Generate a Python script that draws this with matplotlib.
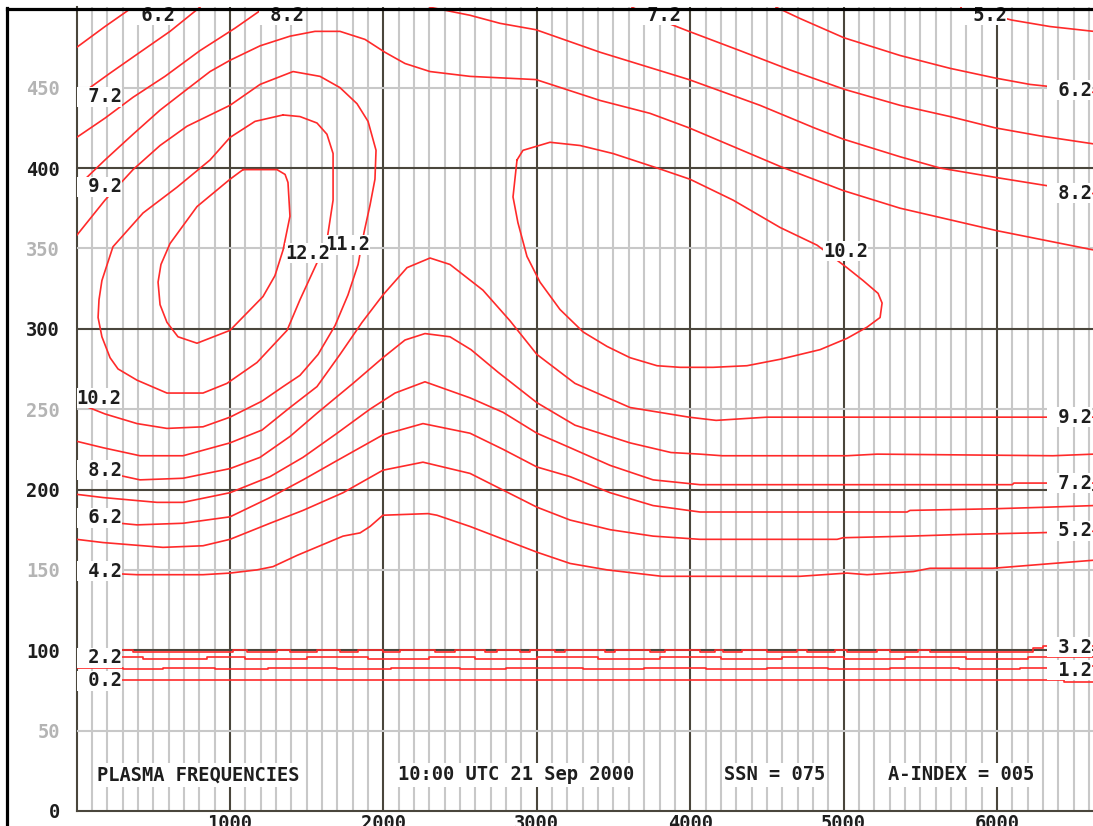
import matplotlib
matplotlib.use("Agg")
import matplotlib.pyplot as plt
from matplotlib.lines import Line2D

# contour traces: distance (km) and height (km), level in MHz
c62a_x = [0, 185, 380]
c62a_y = [475, 488, 501]
c72a_x = [0, 218, 413, 609, 804]
c72a_y = [444, 459, 472, 485, 500]
c82a_x = [0, 185, 368, 576, 804, 1033, 1228]
c82a_y = [419, 431, 444, 457, 473, 487, 500]
c92a_x = [0, 185, 368, 544, 720, 870, 1000, 1196, 1391, 1554, 1717, 1880, 2010, 2141, 2304,
          2565, 2995, 3413, 3738, 3992, 4586, 4997, 5368, 6000, 6630]
c92a_y = [388, 405, 421, 436, 449, 460, 467, 476, 482, 485, 485, 480, 472, 465, 460,
          457, 455, 442, 434, 425, 401, 386, 375, 361, 349]
c82b_x = [2304, 2565, 2760, 2995, 3413, 3992, 4455, 4808, 4997, 5368, 5628, 6000, 6391, 6630]
c82b_y = [500, 495, 490, 486, 472, 455, 439, 425, 418, 407, 400, 394, 388, 384]
c72b_x = [3621, 3803, 3992, 4325, 4651, 5003, 5368, 5694, 5987, 6280, 6630]
c72b_y = [500, 492, 485, 473, 461, 449, 439, 432, 425, 420, 415]
c62b_x = [4560, 4716, 5003, 5368, 5694, 5987, 6215, 6411, 6630]
c62b_y = [500, 493, 481, 470, 462, 456, 452, 450, 447]
c52a_x = [5765, 6098, 6346, 6630]
c52a_y = [500, 492, 488, 485]

c102a_x = [0, 185, 368, 544, 720, 1000, 1196, 1411, 1587, 1717, 1828, 1900, 1952, 1945, 1913,
           1874, 1835, 1769, 1685, 1574, 1456, 1346, 1209, 1000, 824, 589, 394, 185, 0]
c102a_y = [358, 380, 399, 414, 426, 439, 452, 460, 457, 450, 440, 429, 411, 393, 377,
           360, 340, 321, 302, 284, 271, 264, 255, 245, 239, 238, 241, 247, 254]
c112_x = [1346, 1456, 1567, 1632, 1672, 1672, 1632, 1567, 1456, 1372, 1176, 980, 824, 589, 394,
          270, 218, 165, 140, 146, 165, 237, 433, 654, 870, 1000, 1163, 1346]
c112_y = [433, 432, 428, 421, 409, 380, 355, 341, 318, 299, 279, 266, 260, 260, 268,
          275, 282, 295, 307, 318, 330, 351, 372, 388, 405, 419, 429, 433]
c122_x = [1085, 1306, 1359, 1378, 1391, 1346, 1293, 1215, 1000, 785, 661, 589, 544, 531, 550,
          609, 785, 1000, 1085]
c122_y = [399, 399, 396, 391, 370, 349, 333, 320, 299, 291, 295, 304, 315, 329, 340,
          353, 376, 393, 399]
c102b_x = [2871, 2910, 3086, 3282, 3497, 3784, 3999, 4280, 4586, 4827, 5022, 5127, 5225, 5251,
           5238, 5153, 5022, 4847, 4586, 4370, 4149, 3934, 3784, 3608, 3458, 3302, 3151, 3021,
           2936, 2877, 2845, 2871]
c102b_y = [405, 411, 416, 414, 409, 400, 393, 380, 363, 352, 338, 330, 322, 316,
           307, 301, 294, 287, 281, 277, 276, 276, 277, 282, 289, 298, 312, 329,
           345, 366, 382, 405]

c92b_x = [0, 172, 413, 694, 1000, 1209, 1391, 1567, 1717, 1861, 1997, 2154, 2304, 2434, 2649,
          2825, 3001, 3249, 3608, 3992, 4169, 4501, 4827, 6630]
c92b_y = [230, 226, 221, 221, 229, 237, 251, 264, 284, 304, 321, 338, 344, 340, 324,
          305, 284, 266, 251, 245, 243, 245, 245, 245]
c82c_x = [0, 172, 413, 694, 1000, 1196, 1391, 1574, 1802, 1997, 2141, 2271, 2434, 2571, 2747,
          3001, 3249, 3608, 3875, 4064, 4208, 5022, 5218, 6365, 6630]
c82c_y = [212, 211, 206, 207, 213, 220, 233, 248, 266, 282, 293, 297, 295, 287, 273,
          254, 240, 229, 223, 222, 221, 221, 222, 221, 222]
c72c_x = [0, 172, 524, 694, 1000, 1261, 1476, 1698, 1913, 2076, 2271, 2565, 2780, 3001, 3217,
          3478, 3758, 4064, 6100, 6110, 6630]
c72c_y = [197, 195, 192, 192, 198, 208, 220, 235, 250, 260, 267, 257, 248, 235, 226,
          215, 206, 203, 203, 204, 204]
c62c_x = [0, 172, 394, 694, 1000, 1261, 1476, 1698, 1997, 2258, 2565, 2780, 3001, 3217, 3478,
          3758, 4064, 5414, 5433, 5974, 6326, 6630]
c62c_y = [181, 180, 178, 179, 183, 195, 206, 218, 234, 241, 235, 225, 214, 208, 198,
          190, 186, 186, 187, 188, 189, 190]
c52b_x = [0, 172, 563, 824, 1000, 1261, 1476, 1737, 1997, 2258, 2565, 3001, 3217, 3478, 3758,
          4064, 4958, 4997, 5433, 5759, 6234, 6630]
c52b_y = [169, 167, 164, 165, 169, 179, 187, 198, 212, 217, 210, 189, 181, 175, 171,
          169, 169, 170, 171, 172, 173, 174]
c42_x = [0, 172, 394, 824, 1000, 1176, 1280, 1437, 1737, 1848, 1913, 1997, 2291, 2349, 2565,
         3001, 3217, 3458, 3816, 4280, 4716, 5022, 5153, 5456, 5563, 5974, 6365, 6630]
c42_y = [150, 148, 147, 147, 148, 150, 152, 159, 171, 173, 177, 184, 185, 184, 177,
         161, 154, 150, 146, 146, 146, 148, 147, 149, 151, 151, 154, 156]

# E / D layer levels (stepped traces)
c32_x = [0, 368, 1021, 1111, 1306, 1391, 1567, 1717, 1835, 1997, 2108, 2336, 2466, 2662, 2740,
         2890, 2955, 3119, 3184, 3445, 3510, 3738, 3836, 4064, 4162, 4215, 4338, 4501, 4697,
         4762, 4945, 5022, 5218, 5303, 5486, 5563, 6234, 6300, 6630]
c32_y = [100.2, 98.8, 100.2, 98.8, 100.2, 98.8, 100.2, 98.8, 100.2, 98.8, 100.2, 98.8, 100.2,
         98.8, 100.2, 98.8, 100.2, 98.8, 100.2, 98.8, 100.2, 98.8, 100.2, 98.8, 100.2, 98.8,
         100.2, 98.8, 100.2, 98.8, 100.2, 98.8, 100.2, 98.8, 100.2, 98.8, 101.6, 102.6, 102.6]
c22_x = [0, 430, 850, 1100, 1500, 1900, 2300, 2600, 3000, 3400, 3800, 4200, 4600, 5000, 5400,
         5800, 6200, 6630]
c22_y = [95.6, 94.6, 95.6, 94.6, 95.6, 94.6, 95.6, 94.6, 95.6, 94.6, 95.6, 94.6, 95.6, 94.6,
         95.6, 94.6, 95.6, 95.6]
c12_x = [0, 300, 560, 900, 1250, 1700, 2050, 2500, 2800, 3300, 3700, 4100, 4500, 4900, 5300,
         5750, 6150, 6450, 6630]
c12_y = [89.0, 88.2, 89.0, 88.2, 89.0, 88.2, 89.0, 88.2, 89.0, 88.2, 89.0, 88.2, 89.0, 88.2,
         89.0, 88.2, 89.0, 90.5, 89.0]
c02_x = [0, 6440, 6630]
c02_y = [81.5, 80.2, 80.2]

# contour labels
lab_txt = [" 6.2", " 8.2", " 7.2", " 5.2", " 7.2", " 9.2", "10.2", " 8.2", " 6.2", " 4.2",
           " 2.2", " 0.2", "11.2", "12.2", "10.2", " 6.2", " 8.2", " 9.2", " 7.2", " 5.2",
           " 3.2", " 1.2"]
lab_x = [348, 1189, 3647, 5772, 0, 0, 0, 0, 0, 0, 0, 0, 1619, 1359, 4866,
         6326, 6326, 6326, 6326, 6326, 6326, 6326]
lab_y = [495, 495, 495, 495, 444.2, 388.2, 256.9, 212.1, 182.3, 149.3, 95.2, 80.9,
         352.1, 347.1, 348.3, 448.5, 384.4, 245.1, 204.0, 174.2, 102.0, 87.7]

info_txt = ["PLASMA FREQUENCIES", "10:00 UTC 21 Sep 2000", "SSN = 075", "A-INDEX = 005"]
info_x = [133, 2095, 4220, 5290]
info_y = 22.4

y_ticks = [0, 50, 100, 150, 200, 250, 300, 350, 400, 450]
x_ticks = [1000, 2000, 3000, 4000, 5000, 6000]

RED = "#ff2a2a"
LIGHT = "#c8c8c8"
DARK = "#4a463c"
INK = "#1e1e1e"

plt.rcParams["font.family"] = ["DejaVu Sans Mono"]
plt.rcParams["font.weight"] = "bold"
plt.rcParams["font.size"] = 13.5

fig = plt.figure(figsize=(10.93, 8.26), dpi=100)
fig.patch.set_facecolor("white")
ax = fig.add_axes([76.6 / 1093, 15 / 826, 1016.4 / 1093, 803.75 / 826])
ax.set_xlim(0, 6626)
ax.set_ylim(0, 500)
for s in ax.spines.values():
    s.set_visible(False)

# grid: light every 100 km / 50 km, dark every 1000 km / 100 km
for gx in range(100, 6700, 100):
    ax.axvline(gx, color=DARK if gx % 1000 == 0 else LIGHT, lw=1.5, zorder=1)
ax.axvline(0, color=DARK, lw=1.5, zorder=1, clip_on=False)
for gy in range(50, 500, 50):
    ax.axhline(gy, color=DARK if gy % 100 == 0 else LIGHT, lw=1.5, zorder=1)
ax.axhline(0, color=DARK, lw=1.5, zorder=1, clip_on=False)

traces = [(c62a_x, c62a_y), (c72a_x, c72a_y), (c82a_x, c82a_y), (c92a_x, c92a_y),
          (c82b_x, c82b_y), (c72b_x, c72b_y), (c62b_x, c62b_y), (c52a_x, c52a_y),
          (c102a_x, c102a_y), (c112_x, c112_y), (c122_x, c122_y), (c102b_x, c102b_y),
          (c92b_x, c92b_y), (c82c_x, c82c_y), (c72c_x, c72c_y), (c62c_x, c62c_y),
          (c52b_x, c52b_y), (c42_x, c42_y)]
for tx, ty in traces:
    ax.plot(tx, ty, color=RED, lw=1.2, zorder=2)
for tx, ty in [(c32_x, c32_y), (c22_x, c22_y), (c12_x, c12_y), (c02_x, c02_y)]:
    ax.plot(tx, ty, color=RED, lw=1.2, zorder=2, drawstyle="steps-post")

for t, lx, ly in zip(lab_txt, lab_x, lab_y):
    ax.text(lx, ly, t, ha="left", va="center", color=INK, zorder=4, clip_on=True,
            bbox=dict(boxstyle="square,pad=0.02", fc="white", ec="none"))

for t, lx in zip(info_txt, info_x):
    ax.text(lx, info_y, t, ha="left", va="center", color=INK, zorder=4,
            bbox=dict(boxstyle="square,pad=0.12", fc="white", ec="none"))

ax.set_yticks(y_ticks)
ax.set_yticklabels([str(v) for v in y_ticks])
ax.set_xticks(x_ticks)
ax.set_xticklabels([str(v) for v in x_ticks])
ax.tick_params(axis="y", length=0, pad=12)
ax.tick_params(axis="x", length=0, pad=2)
for lbl, v in zip(ax.get_yticklabels(), y_ticks):
    lbl.set_color(INK if v % 100 == 0 else "#b4b4b4")
for lbl in ax.get_xticklabels():
    lbl.set_color(INK)

# outer black frame (top and left edges)
fig.add_artist(Line2D([6.5 / 1093, 1], [1 - 8.5 / 826, 1 - 8.5 / 826],
                      transform=fig.transFigure, color="black", lw=2.3))
fig.add_artist(Line2D([6.5 / 1093, 6.5 / 1093], [0, 1 - 7.5 / 826],
                      transform=fig.transFigure, color="black", lw=2.3))

fig.savefig("out.png", dpi=100)
